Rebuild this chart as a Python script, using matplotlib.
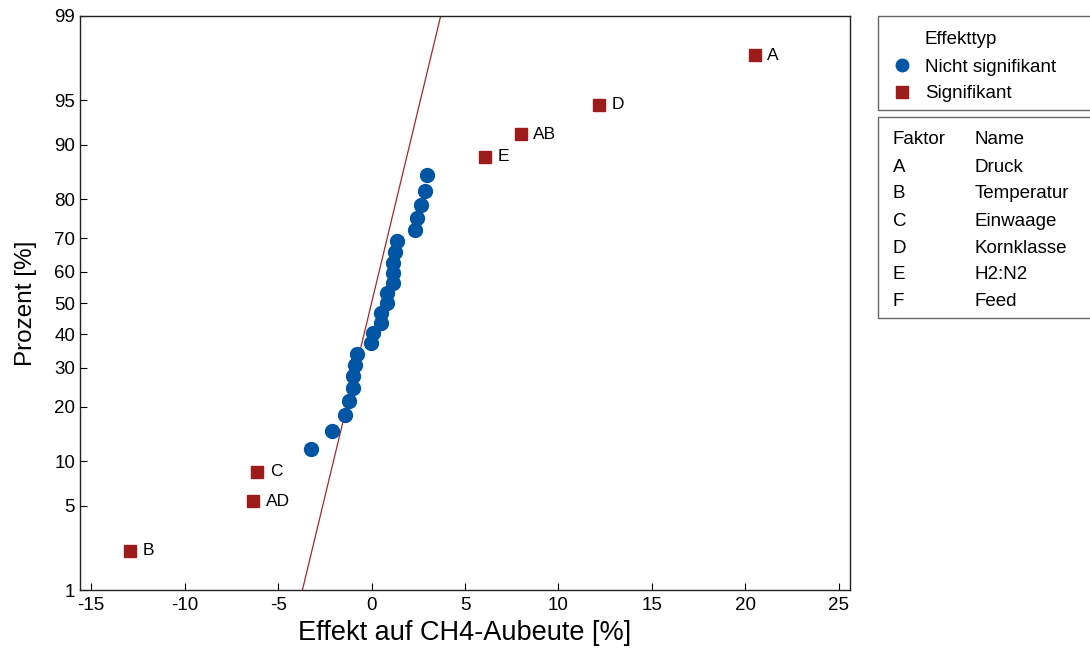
import matplotlib
matplotlib.use("Agg")
import matplotlib.pyplot as plt
from matplotlib.patches import Rectangle
from matplotlib.lines import Line2D
from statistics import NormalDist

plt.rcParams['font.family'] = ['Liberation Sans', 'DejaVu Sans']
plt.rcParams['axes.unicode_minus'] = False

# effects (non-significant ones, sorted)
effects_ns = [-3.25, -2.10, -1.43, -1.22, -1.01, -1.01, -0.90, -0.79,
              -0.04, 0.06, 0.49, 0.49, 0.81, 0.81, 1.13, 1.13, 1.13,
              1.24, 1.35, 2.31, 2.42, 2.63, 2.84, 2.95]
# significant effects with their term names
sig_terms = ["B", "AD", "C", "E", "AB", "D", "A"]
sig_effects = [-12.9, -6.34, -6.12, 6.07, 7.99, 12.17, 20.5]
pse = 1.59  # slope of reference line (Lenth PSE)

percent_ticks = [1, 5, 10, 20, 30, 40, 50, 60, 70, 80, 90, 95, 99]
factors = ["A", "B", "C", "D", "E", "F"]
factor_names = ["Druck", "Temperatur", "Einwaage", "Kornklasse", "H2:N2", "Feed"]

nd = NormalDist()

# plotting positions (median ranks) for all effects
allpts = sorted([(v, None) for v in effects_ns] + list(zip(sig_effects, sig_terms)))
n = len(allpts)
z = [nd.inv_cdf((i + 1 - 0.3) / (n + 0.4)) for i in range(n)]

fig = plt.figure(figsize=(10.9, 6.55), dpi=100)
ax = fig.add_axes([0.0734, 0.0992, 0.7064, 0.8764])

blue = "#0055A4"
red = "#9C1B1B"

bx = [v for (v, t), zz in zip(allpts, z) if t is None]
bz = [zz for (v, t), zz in zip(allpts, z) if t is None]
rx = [v for (v, t), zz in zip(allpts, z) if t is not None]
rz = [zz for (v, t), zz in zip(allpts, z) if t is not None]
rt = [t for (v, t), zz in zip(allpts, z) if t is not None]

zlo, zhi = nd.inv_cdf(0.01), nd.inv_cdf(0.99)
ax.plot([pse * zlo, pse * zhi], [zlo, zhi], color="#A8262B", lw=0.9, zorder=1)
ax.plot(bx, bz, "o", color=blue, ms=10, mec=blue, zorder=3)
ax.plot(rx, rz, "s", color=red, ms=9, mec=red, zorder=3)
for x, y, t in zip(rx, rz, rt):
    ax.annotate(t, (x, y), xytext=(9, 0), textcoords="offset points",
                va="center", ha="left", fontsize=12.5)

ax.set_xlim(-15.6, 25.6)
ax.set_ylim(zlo, zhi)
ax.set_xticks([-15, -10, -5, 0, 5, 10, 15, 20, 25])
ax.set_yticks([nd.inv_cdf(p / 100) for p in percent_ticks])
ax.set_yticklabels([str(p) for p in percent_ticks])
ax.tick_params(direction="in", length=5, labelsize=13.5, top=False, right=False)
ax.tick_params(axis="x", pad=5)
for s in ax.spines.values():
    s.set_linewidth(1.0)
    s.set_color("#222222")
ax.set_xlabel("Effekt auf CH4-Aubeute [%]", fontsize=19.5, labelpad=4)
ax.set_ylabel("Prozent [%]", fontsize=17.5, labelpad=12)

# legend boxes (pixel -> figure coords)
W, H = 1090.0, 655.0
def fx(px):
    return px / W
def fy(py):
    return 1 - py / H

fig.add_artist(Rectangle((fx(878), fy(110)), fx(1095) - fx(878), fy(16) - fy(110),
                         transform=fig.transFigure, fill=False, ec="#666666", lw=1))
fig.add_artist(Rectangle((fx(878), fy(318)), fx(1095) - fx(878), fy(117) - fy(318),
                         transform=fig.transFigure, fill=False, ec="#666666", lw=1))

fs = 13.5
fig.text(fx(925), fy(40), "Effekttyp", fontsize=fs, va="center")
fig.text(fx(925), fy(67), "Nicht signifikant", fontsize=fs, va="center")
fig.text(fx(925), fy(93), "Signifikant", fontsize=fs, va="center")
fig.add_artist(Line2D([fx(902)], [fy(65)], marker="o", color=blue, ms=9,
                      transform=fig.transFigure))
fig.add_artist(Line2D([fx(902)], [fy(92)], marker="s", color=red, ms=8,
                      transform=fig.transFigure))

fig.text(fx(893), fy(139), "Faktor", fontsize=fs, va="center")
fig.text(fx(975), fy(139), "Name", fontsize=fs, va="center")
for i, (f, nm) in enumerate(zip(factors, factor_names)):
    yy = fy(167 + i * 27)
    fig.text(fx(893), yy, f, fontsize=fs, va="center")
    fig.text(fx(975), yy, nm, fontsize=fs, va="center")

fig.savefig("out.png", dpi=100)
